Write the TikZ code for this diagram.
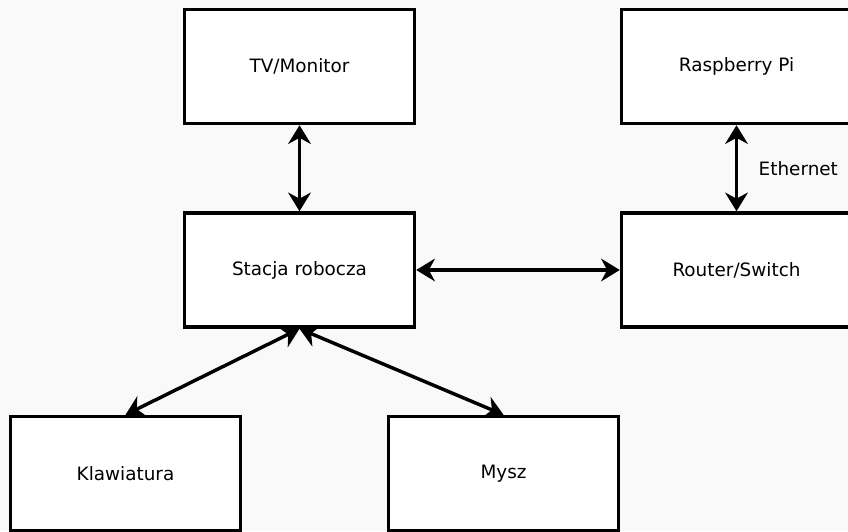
\documentclass[tikz,border=0pt]{standalone}
\usepackage{fontspec}
\setmainfont{DejaVu Sans}
\usepackage{xcolor}
\usetikzlibrary{arrows.meta,positioning}
\definecolor{pagebg}{HTML}{F9F9F9}
\tikzset{
  link/.style={{Stealth[length=14pt,width=17pt]}-{Stealth[length=14pt,width=17pt]},line width=2.6pt,black},
  unit/.style={draw=black,line width=2.6pt,fill=white,minimum width=172.5pt,minimum height=85.5pt,inner sep=0pt,font=\fontsize{13.8}{16}\selectfont}
}
\begin{document}
\begin{tikzpicture}[x=0.75pt,y=-0.75pt]
\fill[pagebg] (0,0) rectangle (848,531);
\useasboundingbox (0,0) rectangle (848,531);
\clip (0,0) rectangle (848,531);
% boxes
\node[unit] (tv) at (299.5,66.5) {TV/Monitor};
\node[unit] (rpi) at (736.5,66.5) {Raspberry Pi};
\node[unit] (ws) at (299.5,270) {Stacja robocza};
\node[unit] (sw) at (736.5,270) {Router/Switch};
\node[unit] (kb) at (125.5,473.5) {Klawiatura};
\node[unit] (ms) at (503.5,473.5) {Mysz};
% links
\draw[link] (tv) -- (ws);
\draw[link] (ws) -- (sw);
\draw[link] (rpi) -- node[right=12pt,font=\fontsize{13.8}{16}\selectfont]{Ethernet} (sw);
\draw[link] (ws.south) -- (kb.north);
\draw[link] (ws.south) -- (ms.north);
\end{tikzpicture}
\end{document}
